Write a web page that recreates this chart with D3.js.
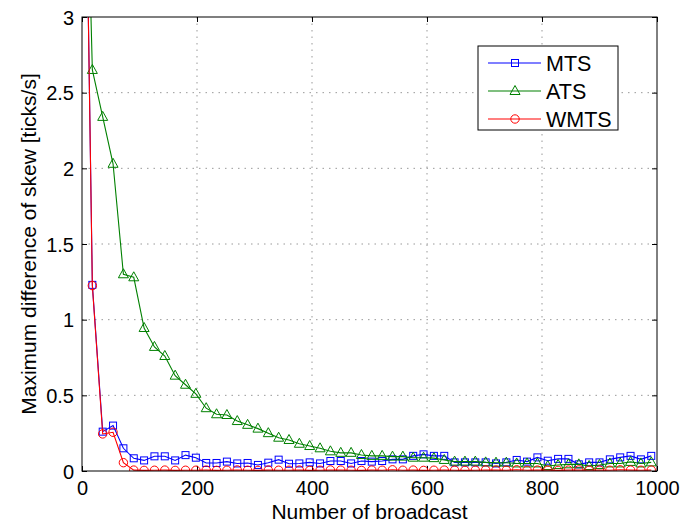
<!DOCTYPE html>
<html>
<head>
<meta charset="utf-8">
<script src="https://cdn.jsdelivr.net/npm/d3@7"></script>
<style>
  body { margin: 0; background: #fff; }
  svg { font-family: "Liberation Sans", Arial, sans-serif; }
  .tick-label { font-size: 20px; fill: #000; }
  .axis-title { font-size: 21px; fill: #000; }
  .legend-text { font-size: 21.5px; fill: #000; }
</style>
</head>
<body>
<div class="wrapper"></div>
<script>
const broadcasts = [0, 18, 36, 54, 72, 90, 108, 126, 144, 162, 180, 198, 216, 234, 252, 270,
  288, 306, 324, 342, 360, 378, 396, 414, 432, 450, 468, 486, 504, 522, 540, 558, 576, 594,
  612, 630, 648, 666, 684, 702, 720, 738, 756, 774, 792, 810, 828, 846, 864, 882, 900, 918,
  936, 954, 972, 990]

const mtsValues = [5.8, 1.23, 0.26, 0.30, 0.15, 0.084, 0.07, 0.097, 0.097, 0.07, 0.105, 0.088,
  0.053, 0.053, 0.062, 0.05, 0.053, 0.04, 0.055, 0.075, 0.048, 0.05, 0.057, 0.05, 0.066, 0.066,
  0.05, 0.066, 0.062, 0.066, 0.077, 0.077, 0.1, 0.11, 0.1, 0.1, 0.057, 0.057, 0.057, 0.057,
  0.05, 0.057, 0.073, 0.062, 0.09, 0.068, 0.08, 0.08, 0.044, 0.057, 0.057, 0.077, 0.09, 0.1,
  0.077, 0.1]

const atsValues = [5.3, 2.65, 2.34, 2.03, 1.30, 1.28, 0.945, 0.82, 0.76, 0.63, 0.57, 0.51,
  0.415, 0.375, 0.37, 0.33, 0.305, 0.28, 0.25, 0.22, 0.205, 0.18, 0.165, 0.15, 0.13, 0.12,
  0.12, 0.106, 0.1, 0.1, 0.095, 0.095, 0.088, 0.088, 0.085, 0.073, 0.062, 0.062, 0.062, 0.057,
  0.055, 0.055, 0.05, 0.05, 0.05, 0.033, 0.04, 0.044, 0.044, 0.033, 0.04, 0.05, 0.05, 0.06,
  0.05, 0.057]

const wmtsValues = [5.8, 1.225, 0.245, 0.256, 0.055, 0.006, 0.004, 0.005, 0.006, 0.004, 0.005,
  0.005, 0.006, 0.004, 0.005, 0.007, 0.005, 0.004, 0.006, 0.005, 0.005, 0.006, 0.004, 0.005,
  0.007, 0.006, 0.005, 0.004, 0.006, 0.005, 0.008, 0.005, 0.006, 0.004, 0.005, 0.006, 0.005,
  0.004, 0.005, 0.007, 0.006, 0.005, 0.008, 0.005, 0.006, 0.005, 0.004, 0.006, 0.007, 0.005,
  0.006, 0.005, 0.008, 0.006, 0.005, 0.006]

const seriesNames = ["MTS", "ATS", "WMTS"]
const xTicks = [0, 200, 400, 600, 800, 1000]
const yTicks = [0, 0.5, 1, 1.5, 2, 2.5, 3]

const series = [
  {name: seriesNames[0], values: mtsValues, color: "#0000ff", marker: "square"},
  {name: seriesNames[1], values: atsValues, color: "#008000", marker: "triangle"},
  {name: seriesNames[2], values: wmtsValues, color: "#ff0000", marker: "circle"},
]

let dimensions = {
  width: 683,
  height: 523,
  margin: {top: 17, right: 26, bottom: 52, left: 82},
}
dimensions.boundedWidth = dimensions.width - dimensions.margin.left - dimensions.margin.right
dimensions.boundedHeight = dimensions.height - dimensions.margin.top - dimensions.margin.bottom

const xScale = d3.scaleLinear().domain([0, 1000]).range([0, dimensions.boundedWidth])
const yScale = d3.scaleLinear().domain([0, 3]).range([dimensions.boundedHeight, 0])

const wrapper = d3.select(".wrapper")
  .append("svg")
  .attr("width", dimensions.width)
  .attr("height", dimensions.height)

const bounds = wrapper.append("g")
  .attr("transform", `translate(${dimensions.margin.left}, ${dimensions.margin.top})`)

wrapper.append("defs").append("clipPath")
  .attr("id", "plot-clip")
  .append("rect")
  .attr("width", dimensions.boundedWidth)
  .attr("height", dimensions.boundedHeight)

// dotted grid
const grid = bounds.append("g")
grid.selectAll(".vgrid")
  .data(xTicks.slice(1, -1))
  .enter().append("line")
  .attr("x1", d => xScale(d)).attr("x2", d => xScale(d))
  .attr("y1", 0).attr("y2", dimensions.boundedHeight)
grid.selectAll(".hgrid")
  .data(yTicks.slice(1, -1))
  .enter().append("line")
  .attr("x1", 0).attr("x2", dimensions.boundedWidth)
  .attr("y1", d => yScale(d)).attr("y2", d => yScale(d))
grid.selectAll("line")
  .attr("stroke", "#999")
  .attr("stroke-width", 1)
  .attr("stroke-dasharray", "1.5,5")

// axes with inward ticks on all four sides
const tickLen = 5
const xAxisBottom = d3.axisBottom(xScale).tickValues(xTicks).tickSizeInner(-tickLen).tickSizeOuter(0).tickPadding(10).tickFormat(d3.format("d"))
const xAxisTop = d3.axisTop(xScale).tickValues(xTicks).tickSizeInner(-tickLen).tickSizeOuter(0).tickFormat("")
const yAxisLeft = d3.axisLeft(yScale).tickValues(yTicks).tickSizeInner(-tickLen).tickSizeOuter(0).tickPadding(8).tickFormat(d3.format("~g"))
const yAxisRight = d3.axisRight(yScale).tickValues(yTicks).tickSizeInner(-tickLen).tickSizeOuter(0).tickFormat("")

const gx = bounds.append("g").attr("transform", `translate(0, ${dimensions.boundedHeight})`).call(xAxisBottom)
bounds.append("g").call(xAxisTop)
const gy = bounds.append("g").call(yAxisLeft)
bounds.append("g").attr("transform", `translate(${dimensions.boundedWidth}, 0)`).call(yAxisRight)

bounds.selectAll(".domain").remove()
bounds.selectAll(".tick line").attr("stroke", "#000")
gx.selectAll("text").attr("class", "tick-label").attr("font-size", null).attr("font-family", null)
gy.selectAll("text").attr("class", "tick-label").attr("font-size", null).attr("font-family", null).attr("dy", "0.35em")

// lines and markers
const lineGenerator = d3.line()
  .x((d, i) => xScale(broadcasts[i]))
  .y(d => yScale(d))

const plot = bounds.append("g").attr("clip-path", "url(#plot-clip)")

function drawMarker(sel, type, color) {
  if (type === "square") {
    sel.append("rect")
      .attr("x", -3.5).attr("y", -3.5).attr("width", 7).attr("height", 7)
  } else if (type === "triangle") {
    sel.append("path").attr("d", "M0,-5.5L5,3.5L-5,3.5Z")
  } else {
    sel.append("circle").attr("r", 4.2)
  }
  sel.selectAll("rect, path, circle")
    .attr("fill", "none")
    .attr("stroke", color)
    .attr("stroke-width", 1)
}

series.forEach(s => {
  plot.append("path")
    .attr("d", lineGenerator(s.values))
    .attr("fill", "none")
    .attr("stroke", s.color)
    .attr("stroke-width", 1.1)
  const markers = plot.append("g").selectAll("g")
    .data(s.values)
    .enter().append("g")
    .attr("transform", (d, i) => `translate(${xScale(broadcasts[i])}, ${yScale(d)})`)
  drawMarker(markers, s.marker, s.color)
})

// plot frame
bounds.append("rect")
  .attr("width", dimensions.boundedWidth)
  .attr("height", dimensions.boundedHeight)
  .attr("fill", "none")
  .attr("stroke", "#000")
  .attr("stroke-width", 1)

// axis titles
wrapper.append("text")
  .attr("class", "axis-title")
  .attr("x", dimensions.margin.left + dimensions.boundedWidth / 2)
  .attr("y", dimensions.height - 4)
  .attr("text-anchor", "middle")
  .text("Number of broadcast")

wrapper.append("text")
  .attr("class", "axis-title")
  .attr("transform", `translate(36, ${dimensions.margin.top + dimensions.boundedHeight / 2}) rotate(-90)`)
  .attr("text-anchor", "middle")
  .text("Maximum difference of skew [ticks/s]")

// legend
const legendGroup = wrapper.append("g")
  .attr("transform", "translate(478, 46)")
legendGroup.append("rect")
  .attr("width", 140)
  .attr("height", 84)
  .attr("fill", "#fff")
  .attr("stroke", "#000")
  .attr("stroke-width", 1)

series.forEach((s, i) => {
  const row = legendGroup.append("g")
    .attr("transform", `translate(0, ${17 + i * 28})`)
  row.append("line")
    .attr("x1", 10).attr("x2", 63)
    .attr("stroke", s.color)
    .attr("stroke-width", 1.1)
  const m = row.append("g").attr("transform", "translate(37, 0)")
  drawMarker(m, s.marker, s.color)
  row.append("text")
    .attr("class", "legend-text")
    .attr("x", 68)
    .attr("dy", "0.36em")
    .text(s.name)
})
</script>
</body>
</html>
